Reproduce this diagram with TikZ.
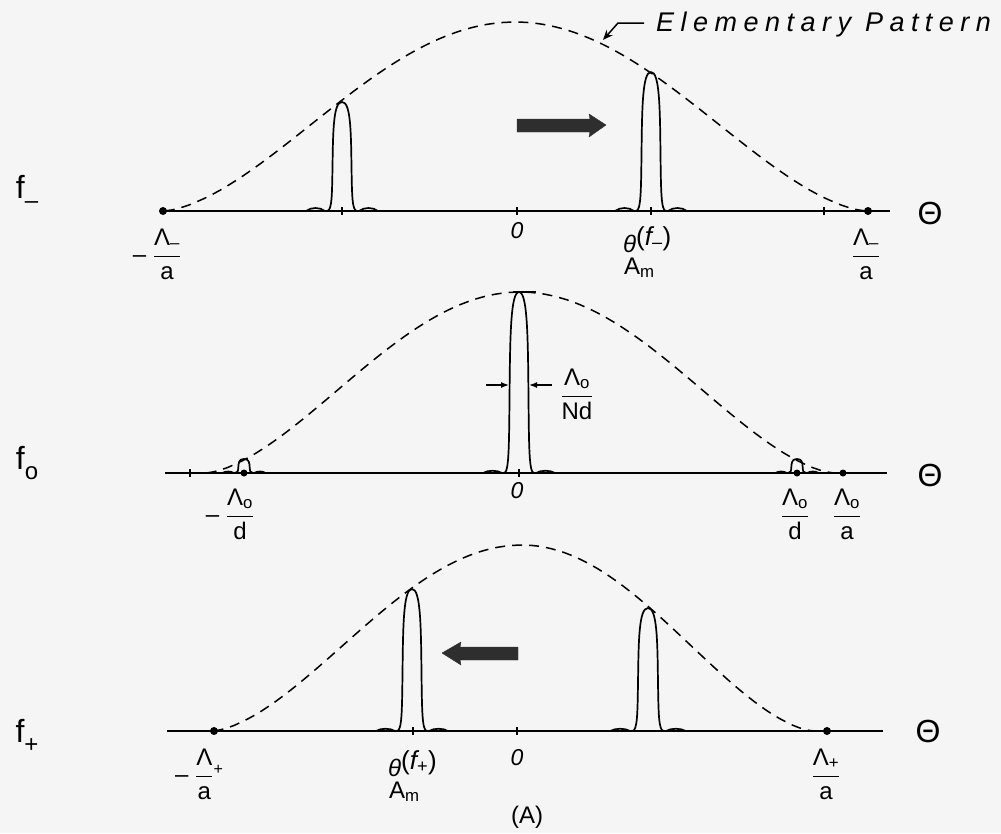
\documentclass[tikz,border=0pt]{standalone}
\usepackage{fontspec}
\setmainfont{Liberation Sans}
\usetikzlibrary{arrows.meta}
\newcommand{\frc}[2]{$\displaystyle\frac{\mbox{#1}}{\mbox{#2}}$}
\newcommand{\thlab}[1]{\begin{tabular}{@{}l@{}}\itshape θ\upshape\raisebox{0.3em}{\fontsize{26}{26}\selectfont(\itshape f\upshape\textsubscript{#1})}\\[-6pt]\hspace{1pt}A\textsubscript{m}\end{tabular}}
% #1 x, #2 top y, #3 base y, #4 half width, #5 lobe height
\newcommand{\drawspike}[5]{%
  \pgfmathsetmacro{\sH}{#3-#2}%
  \draw[curve] ({#1-3.6*#4},#3) .. controls ({#1-3.1*#4},{#3-#5}) and ({#1-2.2*#4},{#3-#5}) .. ({#1-1.7*#4},#3)
    -- ({#1-1.5*#4},#3) .. controls ({#1-1.0*#4},#3) and ({#1-1.0*#4},{#3-0.15*\sH}) .. ({#1-0.95*#4},{#3-0.4*\sH})
    .. controls ({#1-0.9*#4},{#3-0.75*\sH}) and ({#1-0.85*#4},#2) .. (#1,#2)
    .. controls ({#1+0.85*#4},#2) and ({#1+0.9*#4},{#3-0.75*\sH}) .. ({#1+0.95*#4},{#3-0.4*\sH})
    .. controls ({#1+1.0*#4},{#3-0.15*\sH}) and ({#1+1.0*#4},#3) .. ({#1+1.5*#4},#3)
    -- ({#1+1.7*#4},#3) .. controls ({#1+2.2*#4},{#3-#5}) and ({#1+3.1*#4},{#3-#5}) .. ({#1+3.6*#4},#3);}
\begin{document}
\begin{tikzpicture}[x=1pt,y=-1pt,
  curve/.style={line width=1.7pt, line join=round},
  env/.style={line width=1.5pt, dash pattern=on 10pt off 7pt},
  axisline/.style={line width=1.5pt},
  tickm/.style={line width=1.4pt},
  dotn/.style={circle, fill=black, inner sep=0pt, minimum size=8pt},
  lbl/.style={font=\fontsize{24}{28}\selectfont, inner sep=0pt},
  zero/.style={font=\fontsize{23}{26}\selectfont\itshape, inner sep=0pt},
  big/.style={font=\fontsize{32}{34}\selectfont, inner sep=0pt},
  fat/.style={fill=black!82, draw=black!82, line join=round},
  wid/.style={line width=1.4pt, -{Latex[length=8pt,width=6pt]}}]
\fill[black!4] (0,0) rectangle (1001,833);
\useasboundingbox (0,0) rectangle (1001,833);

% ---------------- Elementary pattern label
\node[font=\fontsize{27}{30}\selectfont\itshape\addfontfeature{LetterSpace=24}, anchor=base west, inner sep=0pt] (ep) at (656,31) {Elementary Pattern};
\coordinate (epA) at (644,23);
\coordinate (epB) at (618,23);
\coordinate (epTip) at (603,40);
\draw[line width=1.5pt, -{Stealth[length=10pt,width=8pt]}] (epA) -- (epB) -- (epTip);

% ---------------- panel f_-
\node[big] (fm) at (27,192) {f\raisebox{-0.3em}{\fontsize{24}{24}\selectfont –}};
\node[dotn] (L1) at (163,211) {};
\node[dotn] (R1) at (868,211) {};
\coordinate (E1) at (890,211);
\draw[axisline] (L1.center) -- (E1);
\draw[env] plot[domain=-0.995:0.995, samples=90] ({515+352*\x}, {211-189*max(cos(90*\x),0.0001)^1.6});
\drawspike{342}{102}{211}{10}{4}
\drawspike{651}{72}{211}{10}{4}
\foreach \t in {342,517,651,824} \draw[tickm] (\t,207) -- (\t,215);
\fill[fat] (517,119) -- (590,119) -- (589,114) -- (606,125) -- (589,137) -- (590,132) -- (517,132) -- cycle;
\node[lbl] (lm1) at (157,254) {– \frc{Λ\textsubscript{–}}{a}};
\node[zero] (z1) at (517,231) {0};
\node[lbl, anchor=north west] (th1) at (623,226) {\thlab{–}};
\node[lbl] (lp1) at (866,254) {\frc{Λ\textsubscript{–}}{a}};
\node[big] (T1) at (930,213) {Θ};

% ---------------- panel f_0
\node[big] (fo) at (27,463) {f\raisebox{-0.3em}{\fontsize{24}{24}\selectfont o}};
\coordinate (L2) at (165,473);
\coordinate (E2) at (887,473);
\draw[axisline] (L2) -- (E2);
\node[dotn, minimum size=7pt] (D2a) at (244,473) {};
\node[dotn, minimum size=7pt] (D2b) at (797,473) {};
\node[dotn, minimum size=7pt] (D2c) at (843,473) {};
\draw[env] plot[domain=-0.995:0.995, samples=90] ({520+315*\x}, {473-181*max(cos(90*\x),0.0001)^1.6});
\drawspike{519}{292}{473}{10}{3}
\draw[curve] (513,292) -- (536,292);
\drawspike{244}{459}{473}{6}{2}
\drawspike{797}{459}{473}{6}{2}
\foreach \t in {190,519} \draw[tickm] (\t,469) -- (\t,477);
\coordinate (wl) at (486,385);
\coordinate (wlt) at (509,385);
\coordinate (wr) at (552,385);
\coordinate (wrt) at (529,385);
\draw[wid] (wl) -- (wlt);
\draw[wid] (wr) -- (wrt);
\node[lbl] (nd) at (577,394) {\frc{Λ\textsubscript{o}}{Nd}};
\node[lbl] (lm2) at (230,514) {– \frc{Λ\textsubscript{o}}{d}};
\node[zero] (z2) at (517,491) {0};
\node[lbl] (lp2a) at (795,514) {\frc{Λ\textsubscript{o}}{d}};
\node[lbl] (lp2b) at (847,514) {\frc{Λ\textsubscript{o}}{a}};
\node[big] (T2) at (930,475) {Θ};

% ---------------- panel f_+
\node[big] (fp) at (27,736) {f\raisebox{-0.3em}{\fontsize{24}{24}\selectfont +}};
\coordinate (L3) at (167,731);
\node[dotn] (D3a) at (214,731) {};
\node[dotn] (D3b) at (827,731) {};
\coordinate (E3) at (883,731);
\draw[axisline] (L3) -- (E3);
\draw[env] plot[domain=-0.995:0.995, samples=90] ({522+(\x<0?310:292)*\x}, {731-186*max(cos(90*\x),0.0001)^1.6});
\drawspike{412}{589}{731}{10}{3}
\drawspike{648}{608}{731}{10.5}{3}
\foreach \t in {413,517} \draw[tickm] (\t,727) -- (\t,735);
\fill[fat] (518,647) -- (460,647) -- (461,642) -- (442,653) -- (461,665) -- (460,660) -- (518,660) -- cycle;
\node[lbl] (lm3) at (199,774) {– \frc{Λ}{a}\raisebox{0.3em}{\fontsize{16}{16}\selectfont +}};
\node[lbl, anchor=north west] (th3) at (388,750) {\thlab{+}};
\node[zero] (z3) at (517,758) {0};
\node[lbl] (lp3) at (826,774) {\frc{Λ\textsubscript{+}}{a}};
\node[big] (T3) at (928,731) {Θ};
\node[lbl, font=\fontsize{24}{26}\selectfont] (cap) at (527,817) {(A)};
\end{tikzpicture}
\end{document}
